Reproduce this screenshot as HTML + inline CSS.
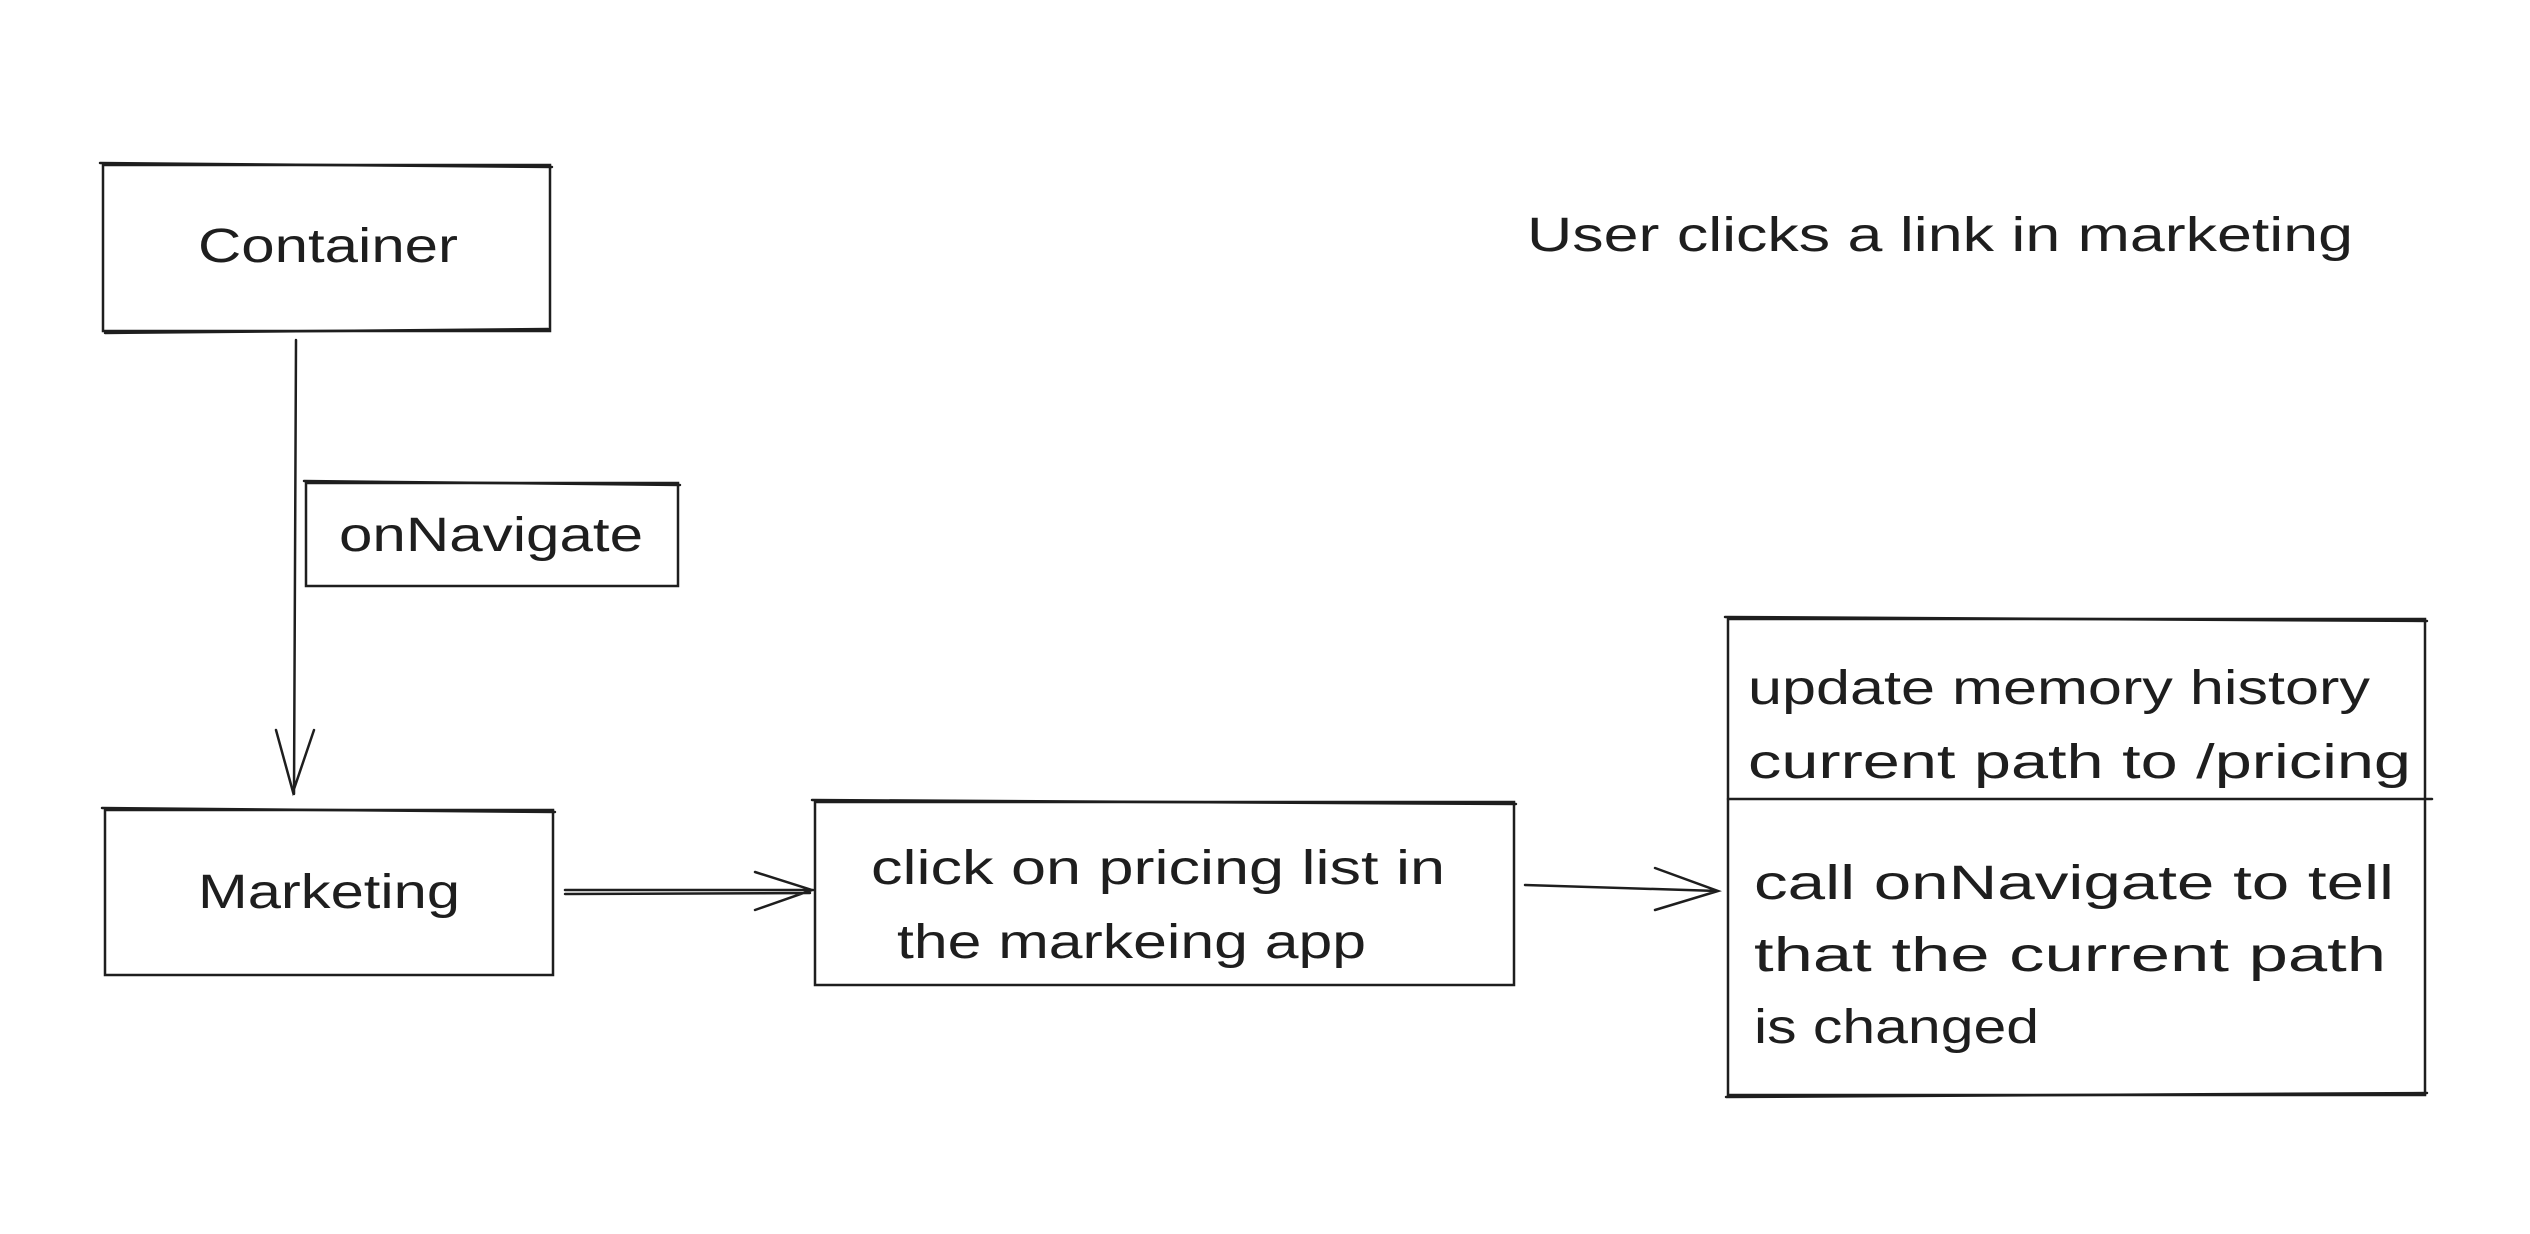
<!DOCTYPE html>
<html><head><meta charset="utf-8"><style>
html,body{margin:0;padding:0;background:#fff;}
svg{display:block;}
text{font-family:"Liberation Sans",sans-serif;font-size:48px;fill:#1e1e1e;}
</style></head><body>
<svg width="2530" height="1234" viewBox="0 0 2530 1234" xmlns="http://www.w3.org/2000/svg">
<g fill="none" stroke="#1e1e1e" stroke-width="2.5" stroke-linecap="round">
<!-- Container -->
<rect x="103" y="165" width="447" height="166"/>
<path d="M100 163 L552 167 M105 333 L548 329"/>
<!-- onNavigate -->
<rect x="306" y="483" width="372" height="103"/>
<path d="M304 481 L680 485"/>
<!-- Marketing -->
<rect x="105" y="810" width="448" height="165"/>
<path d="M102 808 L555 812"/>
<!-- Click box -->
<rect x="815" y="802" width="699" height="183"/>
<path d="M812 800 L1516 804"/>
<!-- Right box -->
<rect x="1728" y="619" width="697" height="476"/>
<path d="M1725 617 L2427 621 M1728 799 L2432 799 M1726 1097 L2427 1093"/>
<!-- vertical arrow -->
<path d="M296 340 L294 794 M276 730 L293 792 L314 730"/>
<!-- arrow 1 -->
<path d="M565 890 L813 890 M565 894 L810 893 M755 872 L812 890 L755 910"/>
<!-- arrow 2 -->
<path d="M1525 885 L1718 891 M1655 868 L1718 891 L1655 910"/>
</g>
<text x="198" y="262" textLength="260" lengthAdjust="spacingAndGlyphs">Container</text>
<text x="339" y="551" textLength="304" lengthAdjust="spacingAndGlyphs">onNavigate</text>
<text x="198" y="908" textLength="262" lengthAdjust="spacingAndGlyphs">Marketing</text>
<text x="871" y="884" textLength="574" lengthAdjust="spacingAndGlyphs">click on pricing list in</text>
<text x="897" y="958" textLength="469" lengthAdjust="spacingAndGlyphs">the markeing app</text>
<text x="1748" y="704" textLength="622" lengthAdjust="spacingAndGlyphs">update memory history</text>
<text x="1748" y="778" textLength="663" lengthAdjust="spacingAndGlyphs">current path to /pricing</text>
<text x="1754" y="899" textLength="640" lengthAdjust="spacingAndGlyphs">call onNavigate to tell</text>
<text x="1754" y="971" textLength="632" lengthAdjust="spacingAndGlyphs">that the current path</text>
<text x="1754" y="1043" textLength="285" lengthAdjust="spacingAndGlyphs">is changed</text>
<text x="1527" y="251" textLength="826" lengthAdjust="spacingAndGlyphs">User clicks a link in marketing</text>
</svg>
</body></html>
